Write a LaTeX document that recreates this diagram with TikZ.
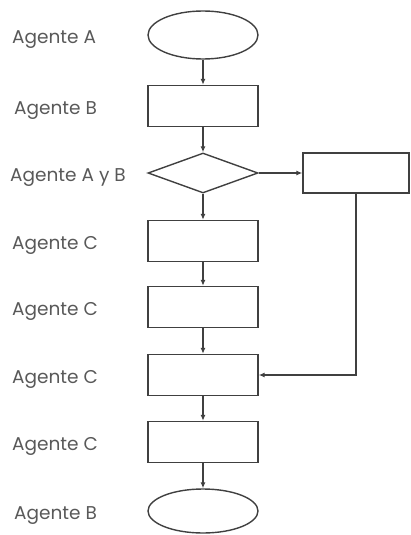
\documentclass[tikz,border=0pt]{standalone}
\usepackage{fontspec}
\setmainfont{Poppins}
\usetikzlibrary{shapes.geometric,arrows.meta}
\begin{document}
\begin{tikzpicture}[x=1pt,y=-1pt,
  shapeline/.style={draw=black!75,line width=1.4pt,inner sep=0pt},
  startend/.style={shapeline,ellipse,minimum width=110pt,minimum height=48pt},
  process/.style={shapeline,rectangle,minimum width=110pt,minimum height=41pt},
  decision/.style={shapeline,diamond,minimum width=110pt,minimum height=40pt},
  flow/.style={draw=black!75,line width=1.3pt,-{Latex[length=6pt,width=5pt]}},
  agent/.style={anchor=base west,text=black!65,font=\fontsize{18.5}{20}\selectfont,inner sep=0pt}]
\useasboundingbox (0,0) rectangle (411,535);
% shapes of the flowchart
\node[startend] (ini) at (203,35) {};
\node[process]  (pb)  at (203,106) {};
\node[decision] (dec) at (203,173) {};
\node[process,minimum width=106pt,minimum height=40pt] (side) at (356,173) {};
\node[process]  (pc1) at (203,241) {};
\node[process]  (pc2) at (203,307) {};
\node[process]  (pc3) at (203,375) {};
\node[process]  (pc4) at (203,442) {};
\node[startend,minimum height=44pt] (fin) at (203,511) {};
% connectors
\draw[flow] (ini) -- (pb);
\draw[flow] (pb) -- (dec);
\draw[flow] (dec) -- (pc1);
\draw[flow] (pc1) -- (pc2);
\draw[flow] (pc2) -- (pc3);
\draw[flow] (pc3) -- (pc4);
\draw[flow] (pc4) -- (fin);
\draw[flow] (dec.east) -- (side.west);
\draw[flow] (side.south) |- (pc3.east);
% agent labels
\node[agent] (la1) at (12,44)  {Agente A};
\node[agent] (la2) at (14,114) {Agente B};
\node[agent] (la3) at (10,181) {Agente A y B};
\node[agent] (la4) at (12,249) {Agente C};
\node[agent] (la5) at (12,315) {Agente C};
\node[agent] (la6) at (12,383) {Agente C};
\node[agent] (la7) at (12,450) {Agente C};
\node[agent] (la8) at (14,519) {Agente B};
\end{tikzpicture}
\end{document}
